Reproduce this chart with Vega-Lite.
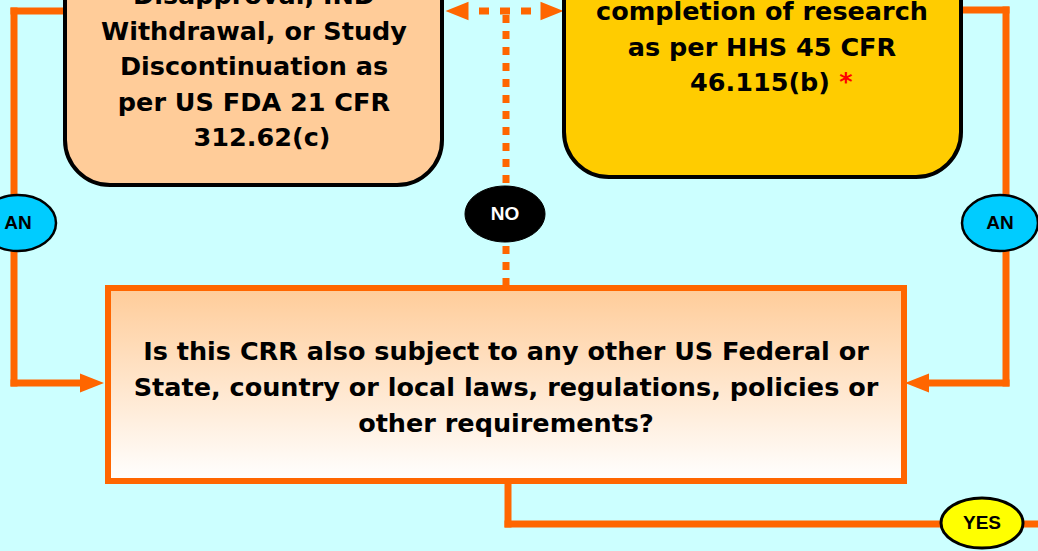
{
  "$schema": "https://vega.github.io/schema/vega-lite/v6.json",
  "width": 1038,
  "height": 551,
  "autosize": {"type": "none"},
  "padding": 0,
  "background": "#CCFFFF",
  "config": {"view": {"stroke": null}},
  "datasets": {
    "boxes": [
      {"id": "left", "x": 65, "x2": 442, "y": -80, "y2": 185},
      {"id": "right", "x": 564, "x2": 961, "y": -80, "y2": 177}
    ],
    "question": [
      {"id": "question", "x": 108, "x2": 904, "y": 288, "y2": 481}
    ],
    "segments": [
      {"x": 14, "y": 11, "x2": 62, "y2": 11},
      {"x": 14, "y": 11, "x2": 14, "y2": 383},
      {"x": 14, "y": 383, "x2": 84, "y2": 383},
      {"x": 962, "y": 10, "x2": 1006, "y2": 10},
      {"x": 1006, "y": 10, "x2": 1006, "y2": 383},
      {"x": 1006, "y": 383, "x2": 926, "y2": 383},
      {"x": 508, "y": 484, "x2": 508, "y2": 524},
      {"x": 508, "y": 524, "x2": 1045, "y2": 524}
    ],
    "dotsH": [
      {"x": 479, "y": 11, "x2": 533, "y2": 11}
    ],
    "dotsV": [
      {"x": 506, "y": 15, "x2": 506, "y2": 186},
      {"x": 506, "y": 246, "x2": 506, "y2": 286}
    ],
    "arrows": [
      {"x": 457, "y": 11, "dir": "left", "kind": "small"},
      {"x": 552, "y": 11, "dir": "right", "kind": "small"},
      {"x": 92, "y": 383, "dir": "right", "kind": "big"},
      {"x": 917, "y": 383, "dir": "left", "kind": "big"}
    ],
    "nodes": [
      {"kind": "AN", "x": 18, "y": 223, "label": "AN"},
      {"kind": "AN", "x": 1000, "y": 223, "label": "AN"},
      {"kind": "NO", "x": 505, "y": 214, "label": "NO"},
      {"kind": "YES", "x": 982, "y": 523, "label": "YES"}
    ],
    "texts": [
      {"x": 254, "y": 4, "text": "Disapproval, IND"},
      {"x": 254, "y": 39.5, "text": "Withdrawal, or Study"},
      {"x": 254, "y": 75, "text": "Discontinuation as"},
      {"x": 254, "y": 110.5, "text": "per US FDA 21 CFR"},
      {"x": 262, "y": 146, "text": "312.62(c)"},
      {"x": 762, "y": 20, "text": "completion of research"},
      {"x": 762, "y": 55.5, "text": "as per HHS 45 CFR"},
      {"x": 760, "y": 91, "text": "46.115(b)"},
      {"x": 506, "y": 360, "text": "Is this CRR also subject to any other US Federal or"},
      {"x": 506, "y": 396, "text": "State, country or local laws, regulations, policies or"},
      {"x": 506, "y": 432, "text": "other requirements?"}
    ],
    "notes": [
      {"x": 846, "y": 90, "text": "*"}
    ]
  },
  "encoding": {
    "x": {"field": "x", "type": "quantitative", "axis": null, "scale": {"domain": [0, 1038], "nice": false, "zero": false}},
    "y": {"field": "y", "type": "quantitative", "axis": null, "scale": {"domain": [0, 551], "nice": false, "zero": false, "reverse": true}}
  },
  "layer": [
    {
      "data": {"name": "segments"},
      "mark": {"type": "rule", "color": "#FF6600", "strokeWidth": 7, "strokeCap": "square"},
      "encoding": {"x2": {"field": "x2"}, "y2": {"field": "y2"}}
    },
    {
      "data": {"name": "dotsH"},
      "mark": {"type": "rule", "color": "#FF6600", "strokeWidth": 7, "strokeDash": [10, 11]},
      "encoding": {"x2": {"field": "x2"}, "y2": {"field": "y2"}}
    },
    {
      "data": {"name": "dotsV"},
      "mark": {"type": "rule", "color": "#FF6600", "strokeWidth": 7, "strokeDash": [8, 8]},
      "encoding": {"x2": {"field": "x2"}, "y2": {"field": "y2"}}
    },
    {
      "data": {"name": "arrows"},
      "transform": [{"filter": "datum.kind === 'small'"}],
      "mark": {"type": "point", "filled": true, "color": "#FF6600", "opacity": 1, "size": 529, "strokeWidth": 0},
      "encoding": {
        "shape": {"field": "dir", "type": "nominal", "legend": null,
          "scale": {"domain": ["left", "right"], "range": ["M-1,0L1,-0.8L1,0.8Z", "M1,0L-1,-0.8L-1,0.8Z"]}}
      }
    },
    {
      "data": {"name": "arrows"},
      "transform": [{"filter": "datum.kind === 'big'"}],
      "mark": {"type": "point", "filled": true, "color": "#FF6600", "opacity": 1, "size": 576, "strokeWidth": 0},
      "encoding": {
        "shape": {"field": "dir", "type": "nominal", "legend": null,
          "scale": {"domain": ["left", "right"], "range": ["M-1,0L1,-1L1,1Z", "M1,0L-1,-1L-1,1Z"]}}
      }
    },
    {
      "data": {"name": "boxes"},
      "mark": {"type": "rect", "cornerRadius": 45, "stroke": "#000000", "strokeWidth": 4},
      "encoding": {
        "x2": {"field": "x2"}, "y2": {"field": "y2"},
        "fill": {"field": "id", "type": "nominal", "legend": null,
          "scale": {"domain": ["left", "right"], "range": ["#FFCC99", "#FFCC00"]}}
      }
    },
    {
      "data": {"name": "question"},
      "mark": {"type": "rect", "stroke": "#FF6600", "strokeWidth": 6,
        "fill": {"gradient": "linear", "x1": 0, "y1": 0, "x2": 0, "y2": 1,
          "stops": [{"offset": 0, "color": "#FFCC99"}, {"offset": 1, "color": "#FFFFFF"}]}},
      "encoding": {"x2": {"field": "x2"}, "y2": {"field": "y2"}}
    },
    {
      "data": {"name": "nodes"},
      "transform": [{"filter": "datum.kind === 'AN'"}],
      "mark": {"type": "point", "filled": true, "fill": "#00CCFF", "stroke": "#000000", "strokeWidth": 2.5, "opacity": 1, "size": 5776,
        "shape": "M-1,0A1,0.737,0,1,1,1,0A1,0.737,0,1,1,-1,0Z"}
    },
    {
      "data": {"name": "nodes"},
      "transform": [{"filter": "datum.kind === 'NO'"}],
      "mark": {"type": "point", "filled": true, "fill": "#000000", "stroke": "#000000", "strokeWidth": 1, "opacity": 1, "size": 6400,
        "shape": "M-1,0A1,0.7,0,1,1,1,0A1,0.7,0,1,1,-1,0Z"}
    },
    {
      "data": {"name": "nodes"},
      "transform": [{"filter": "datum.kind === 'YES'"}],
      "mark": {"type": "point", "filled": true, "fill": "#FFFF00", "stroke": "#000000", "strokeWidth": 3, "opacity": 1, "size": 6724,
        "shape": "M-1,0A1,0.61,0,1,1,1,0A1,0.61,0,1,1,-1,0Z"}
    },
    {
      "data": {"name": "nodes"},
      "mark": {"type": "text", "font": "Liberation Sans", "fontWeight": "bold", "fontSize": 19, "align": "center", "baseline": "middle"},
      "encoding": {
        "text": {"field": "label"},
        "color": {"field": "kind", "type": "nominal", "legend": null,
          "scale": {"domain": ["AN", "NO", "YES"], "range": ["#000000", "#FFFFFF", "#000000"]}}
      }
    },
    {
      "data": {"name": "texts"},
      "mark": {"type": "text", "font": "DejaVu Sans", "fontWeight": "bold", "fontSize": 25.5, "align": "center", "baseline": "alphabetic", "color": "#000000"},
      "encoding": {"text": {"field": "text"}}
    },
    {
      "data": {"name": "notes"},
      "mark": {"type": "text", "font": "DejaVu Sans", "fontWeight": "bold", "fontSize": 25.5, "align": "center", "baseline": "alphabetic", "color": "#FF0000"},
      "encoding": {"text": {"field": "text"}}
    }
  ]
}
